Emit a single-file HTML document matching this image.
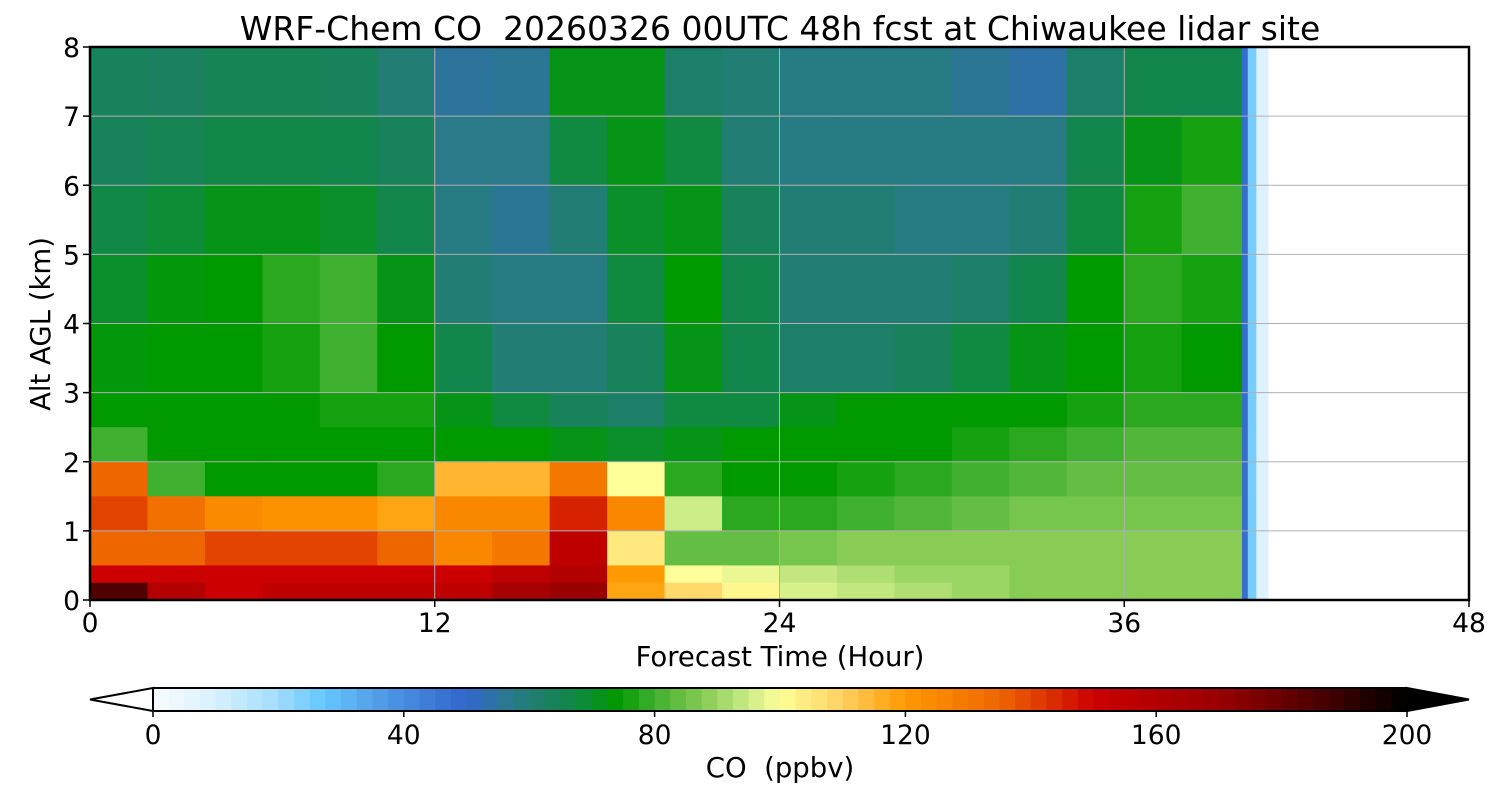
<!DOCTYPE html>
<html><head><meta charset="utf-8"><style>
body{margin:0;background:#fff;}
svg{display:block;font-family:"DejaVu Sans","Liberation Sans",sans-serif;}
text{white-space:pre;}
</style></head><body>
<svg id="chart" width="1500" height="800" viewBox="0 0 1500 800" xmlns="http://www.w3.org/2000/svg">
<text x="780" y="40" font-size="33" text-anchor="middle" xml:space="preserve">WRF-Chem CO  20260326 00UTC 48h fcst at Chiwaukee lidar site</text>
<g id="cells"></g>
<g id="grid"></g>
<rect x="90" y="47" width="1379" height="553" fill="none" stroke="#000" stroke-width="2.5"/>
<g id="axes"></g>
<text x="780" y="666" font-size="27.5" text-anchor="middle">Forecast Time (Hour)</text>
<text transform="translate(50,324) rotate(-90)" font-size="27.5" text-anchor="middle">Alt AGL (km)</text>
<g id="cbar"></g>
<text x="780" y="777" font-size="27.5" text-anchor="middle" xml:space="preserve">CO  (ppbv)</text>
</svg>
<script>
const timeEdges=[0,2,4,6,8,10,12,14,16,18,20,22,24,26,28,30,32,34,36,38,40.1,40.3,40.6,41];
const altEdges=[8,7,6,5,4,3,2.5,2,1.5,1,0.5,0.25,0];
const coValues=[
[64,63,65,65,64,60,55,56,72,72,62,60,58,58,58,56,54,62,66,66,48,25,8],
[64,65,67,67,66,64,57,57,68,72,68,60,58,58,58,58,58,66,72,76,48,25,8],
[67,69,72,72,70,66,58,56,60,70,72,64,60,60,58,58,60,68,76,80,48,25,8],
[70,73,74,78,80,72,60,58,58,68,74,66,60,60,60,62,66,74,78,76,48,25,8],
[73,74,74,76,80,74,66,60,60,64,72,66,62,62,64,68,72,74,76,74,48,25,8],
[74,74,74,74,76,76,72,68,64,62,68,68,72,74,74,74,74,76,78,78,48,25,8],
[80,74,74,74,74,74,74,74,72,70,72,74,74,74,74,76,78,80,82,82,48,25,8],
[135,80,74,74,74,78,115,115,130,100,78,74,74,76,78,80,82,84,84,84,48,25,8],
[140,132,124,122,122,118,125,125,145,125,95,78,78,80,82,84,86,86,86,86,48,25,8],
[135,135,140,140,140,135,125,130,155,105,84,84,86,88,88,88,88,88,88,88,48,25,8],
[150,150,150,150,150,150,150,155,160,120,100,98,94,92,90,90,88,88,88,88,48,25,8],
[185,160,150,155,155,155,155,165,170,118,108,102,96,94,92,90,88,88,88,88,48,25,8]];
const xTicks=[0,12,24,36,48];
const yTicks=[0,1,2,3,4,5,6,7,8];
const cbTicks=[0,40,80,120,160,200];
const cmapStops=[[0,"#f8fcff"],[10,"#d8f0fc"],[20,"#a0dcfc"],[27,"#66c8ff"],[35,"#55a0e8"],[43,"#4080d8"],[50,"#3366cc"],[57,"#2a7a8a"],[63,"#1a8060"],[68,"#0f8a40"],[74,"#009900"],[80,"#40b030"],[88,"#88cc55"],[95,"#ccec88"],[100,"#ffff99"],[110,"#ffd060"],[120,"#ff9900"],[135,"#ee6600"],[150,"#cc0000"],[170,"#990000"],[185,"#500000"],[200,"#000000"]];
const NS="http://www.w3.org/2000/svg";
const X=t=>90+t*1379/48, Y=a=>600-a*553/8, CB=v=>153+v*1254/200;
function hex(h){return [1,3,5].map(i=>parseInt(h.substr(i,2),16));}
function cmap(v){v=Math.max(0,Math.min(200,v));for(let i=1;i<cmapStops.length;i++){if(v<=cmapStops[i][0]){const a=cmapStops[i-1][0],ca=cmapStops[i-1][1],b=cmapStops[i][0],cb=cmapStops[i][1];const f=(v-a)/(b-a),A=hex(ca),B=hex(cb);return "rgb("+A.map((c,k)=>Math.round(c+(B[k]-c)*f)).join(",")+")";}}return "#000";}
function mk(tag,at,parent){const e=document.createElementNS(NS,tag);for(const k in at)e.setAttribute(k,at[k]);parent.appendChild(e);return e;}
const cellsG=document.getElementById('cells');
coValues.forEach((row,r)=>row.forEach((v,c)=>{
 const e=mk('rect',{x:X(timeEdges[c]),y:Y(altEdges[r]),width:X(timeEdges[c+1])-X(timeEdges[c])+0.6,height:Y(altEdges[r+1])-Y(altEdges[r])+0.6,fill:cmap(v)},cellsG);
 
 
}));
const gridG=document.getElementById('grid'),axesG=document.getElementById('axes');
xTicks.forEach(t=>{
 if(t>0&&t<48){const g=mk('line',{x1:X(t),x2:X(t),y1:47,y2:600,stroke:"#b0b0b0","stroke-width":1},gridG);}
 const tk=mk('line',{x1:X(t),x2:X(t),y1:600,y2:607,stroke:"#000","stroke-width":1.5},axesG);
 const l=mk('text',{x:X(t),y:632,"font-size":26.5,"text-anchor":"middle"},axesG);l.textContent=t;
});
yTicks.forEach(a=>{
 if(a>0&&a<8){const g=mk('line',{x1:90,x2:1469,y1:Y(a),y2:Y(a),stroke:"#b0b0b0","stroke-width":1},gridG);}
 const tk=mk('line',{x1:83,x2:90,y1:Y(a),y2:Y(a),stroke:"#000","stroke-width":1.5},axesG);
 const l=mk('text',{x:80,y:Y(a)+10,"font-size":26.5,"text-anchor":"end"},axesG);l.textContent=a;
});
const cbarG=document.getElementById('cbar');
for(let v=0;v<200;v+=2.5){const e=mk('rect',{x:CB(v),y:688,width:CB(2.5)-CB(0)+0.5,height:23,fill:cmap(v+1.25)},cbarG);}
const leftTri=mk('polygon',{points:"153,688 90,699.5 153,711",fill:"#fff",stroke:"#000","stroke-width":2},cbarG);
const rightTri=mk('polygon',{points:"1407,688 1469,699.5 1407,711",fill:"#000",stroke:"#000","stroke-width":2},cbarG);
const cbTop=mk('line',{x1:153,x2:1407,y1:688,y2:688,stroke:"#000","stroke-width":2},cbarG);
const cbBot=mk('line',{x1:153,x2:1407,y1:711,y2:711,stroke:"#000","stroke-width":2},cbarG);
cbTicks.forEach(v=>{
 const tk=mk('line',{x1:CB(v),x2:CB(v),y1:711,y2:717,stroke:"#000","stroke-width":1.5},cbarG);
 const l=mk('text',{x:CB(v),y:744,"font-size":26.5,"text-anchor":"middle"},cbarG);l.textContent=v;
});
</script>
</body></html>
